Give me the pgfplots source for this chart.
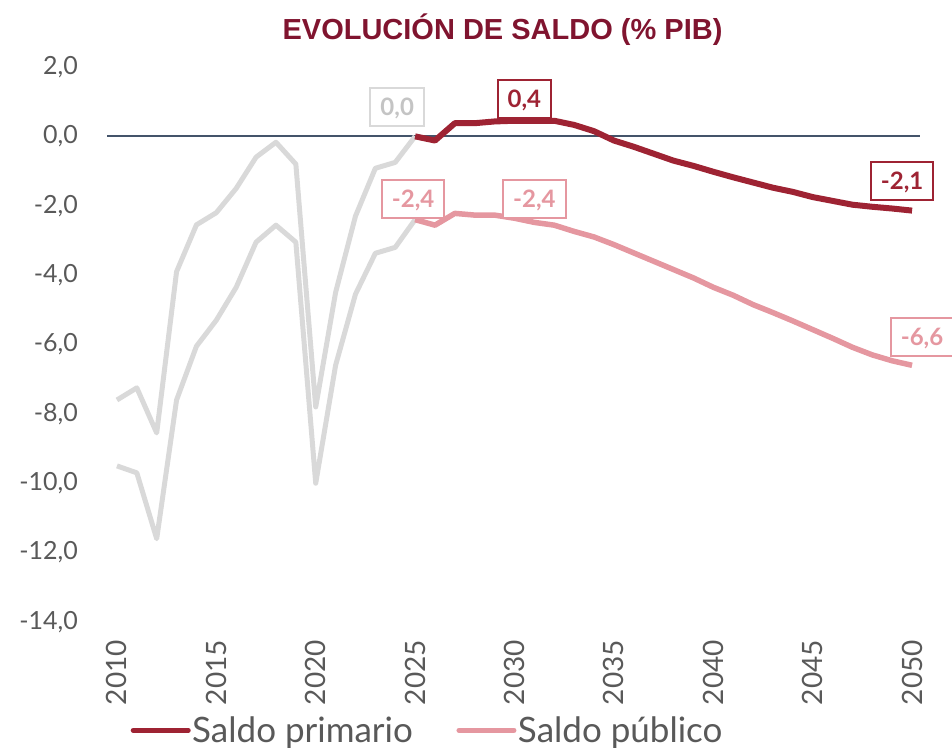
\documentclass[border=0pt]{standalone}
\usepackage{fontspec}
\setmainfont{Lato}
\newfontfamily\titlefont{Liberation Sans}
\usepackage{pgfplots}
\pgfplotsset{compat=1.18}
\definecolor{darkred}{HTML}{9E2333}
\definecolor{pinkc}{HTML}{E597A0}
\definecolor{grayc}{HTML}{D9D9D9}
\definecolor{graytxt}{HTML}{C4C4C4}
\definecolor{zeroline}{HTML}{44546A}
\definecolor{textgray}{HTML}{595959}
\definecolor{titlec}{HTML}{80142F}
\begin{document}
\begin{tikzpicture}
\path[use as bounding box] (0pt,0pt) rectangle (952pt,749pt);
\begin{axis}[
  at={(107pt,127pt)}, anchor=south west,
  scale only axis, width=813pt, height=555pt,
  xmin=2009.5, xmax=2050.4, ymin=-14, ymax=2,
  clip=false,
  axis line style={draw=none},
  major tick length=0pt,
  xtick={2010,2015,...,2050},
  ytick={-14,-12,...,2},
  /pgf/number format/assume math mode=true,
  x tick label style={rotate=90, anchor=east, inner sep=0pt,
    font=\fontsize{28}{28}\selectfont, text=textgray,
    /pgf/number format/1000 sep={}},
  xticklabel shift=18pt,
  y tick label style={anchor=east, inner sep=0pt,
    font=\fontsize{25}{25}\selectfont, text=textgray,
    /pgf/number format/.cd, use comma, fixed, fixed zerofill, precision=1},
  yticklabel shift=29pt,
  legend style={at={(0.394,-0.195)}, anchor=center, draw=none, fill=none,
    legend columns=2, font=\fontsize{35}{38}\selectfont, text=textgray,
    inner sep=0pt, nodes={inner sep=1.5pt},
    /tikz/every even column/.append style={column sep=42pt}},
  legend image code/.code={\draw[#1, line width=5pt, line cap=round] (0pt,0pt) -- (55pt,0pt);},
]
\addplot[zeroline, line width=1.8pt, forget plot] coordinates {(2009.5,0) (2050.4,0)};
% historical primary balance (grey)
\addplot[grayc, line width=5pt, line join=round, forget plot] coordinates {
(2010,-7.6) (2011,-7.25) (2012,-8.55) (2013,-3.9) (2014,-2.55) (2015,-2.2)
(2016,-1.5) (2017,-0.6) (2018,-0.17) (2019,-0.8) (2020,-7.8) (2021,-4.5)
(2022,-2.3) (2023,-0.92) (2024,-0.75) (2025,0.0)};
% historical public balance (grey)
\addplot[grayc, line width=5pt, line join=round, forget plot] coordinates {
(2010,-9.5) (2011,-9.7) (2012,-11.6) (2013,-7.6) (2014,-6.05) (2015,-5.3)
(2016,-4.35) (2017,-3.05) (2018,-2.56) (2019,-3.05) (2020,-10.0) (2021,-6.6)
(2022,-4.55) (2023,-3.37) (2024,-3.2) (2025,-2.4)};
% projections
\addplot[darkred, line width=6pt, line join=round] coordinates {
(2025,0.0) (2026,-0.12) (2027,0.38) (2028,0.38) (2029,0.43) (2030,0.45)
(2031,0.45) (2032,0.45) (2033,0.33) (2034,0.15) (2035,-0.12) (2036,-0.3)
(2037,-0.5) (2038,-0.7) (2039,-0.85) (2040,-1.02) (2041,-1.18) (2042,-1.33)
(2043,-1.48) (2044,-1.6) (2045,-1.75) (2046,-1.86) (2047,-1.97) (2048,-2.03)
(2049,-2.08) (2050,-2.14)};
\addlegendentry{Saldo primario}
\addplot[pinkc, line width=5.5pt, line join=round] coordinates {
(2025,-2.4) (2026,-2.56) (2027,-2.22) (2028,-2.27) (2029,-2.27) (2030,-2.36)
(2031,-2.48) (2032,-2.56) (2033,-2.74) (2034,-2.9) (2035,-3.12) (2036,-3.36)
(2037,-3.6) (2038,-3.84) (2039,-4.08) (2040,-4.35) (2041,-4.58) (2042,-4.85)
(2043,-5.08) (2044,-5.32) (2045,-5.57) (2046,-5.82) (2047,-6.08) (2048,-6.3)
(2049,-6.47) (2050,-6.6)};
\addlegendentry{Saldo público}
% data labels
\tikzset{lbl/.style={fill=white, line width=2pt, inner xsep=10pt, inner ysep=10.5pt,
  text height=17pt, text depth=0pt, font=\bfseries\fontsize{24}{24}\selectfont}}
\node[lbl, draw=grayc, text=graytxt] at (axis cs:2024.1,0.85) {0,0};
\node[lbl, draw=darkred, text=darkred] at (axis cs:2030.5,1.08) {0,4};
\node[lbl, draw=pinkc, text=pinkc] at (axis cs:2024.9,-1.80) {-2,4};
\node[lbl, draw=pinkc, text=pinkc] at (axis cs:2031.0,-1.80) {-2,4};
\node[lbl, draw=darkred, text=darkred] at (axis cs:2049.5,-1.29) {-2,1};
\node[lbl, draw=pinkc, text=pinkc] at (axis cs:2050.5,-5.78) {-6,6};
\end{axis}
\node[anchor=base, text=titlec, font=\titlefont\bfseries\fontsize{29}{29}\selectfont] at (502.5pt,709.5pt) {EVOLUCIÓN DE SALDO (\% PIB)};
\end{tikzpicture}
\end{document}
